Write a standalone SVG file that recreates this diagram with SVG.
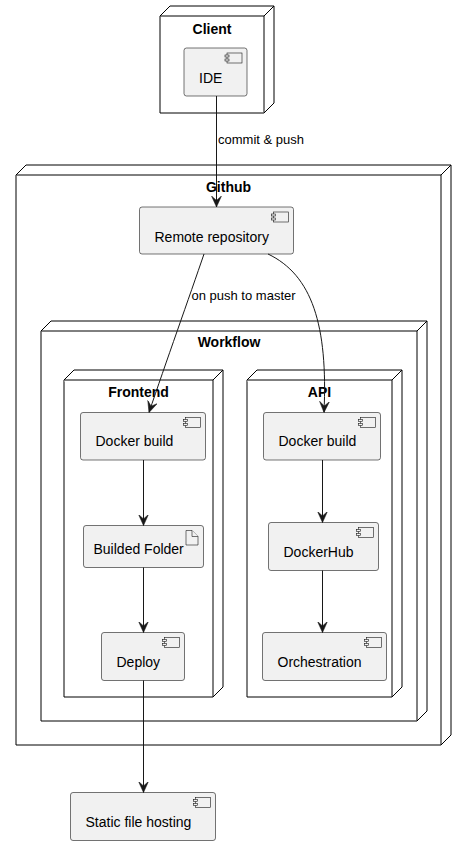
<svg xmlns="http://www.w3.org/2000/svg" width="466" height="845" viewBox="0 0 466 845">
<style>
.node{fill:#FFFFFF;stroke:#000000;stroke-width:1}
.comp{fill:#F1F1F1;stroke:#181818;stroke-width:0.6}
.icon{fill:#F1F1F1;stroke:#181818;stroke-width:0.6}
.nl{font-family:"Liberation Sans",Arial,sans-serif;font-size:14px;font-weight:bold;fill:#000;text-anchor:middle}
.cl{font-family:"Liberation Sans",Arial,sans-serif;font-size:14px;fill:#000}
.el{font-family:"Liberation Sans",Arial,sans-serif;font-size:13px;fill:#000}
.edge{fill:none;stroke:#181818;stroke-width:1}
</style>
<defs>
<marker id="arr" viewBox="0 0 10 10" markerWidth="11" markerHeight="11" refX="10" refY="5" orient="auto" markerUnits="userSpaceOnUse">
<path d="M0,0.5 L10,5 L0,9.5 L4,5 Z" fill="#181818" stroke="#181818" stroke-width="0.5"/>
</marker>
<g id="cicon">
<rect x="-20" y="5" width="15" height="10" class="icon"/>
<rect x="-22" y="7" width="4" height="2" class="icon"/>
<rect x="-22" y="11" width="4" height="2" class="icon"/>
</g>
</defs>

<g id="github">
<path class="node" d="M16,175 L26,165 L451,165 L451,735 L441,745 L16,745 Z"/>
<path class="node" d="M16,175 L441,175 L441,745 M441,175 L451,165" fill="none"/>
<text class="nl" x="228.5" y="192">Github</text>
</g>
<g id="workflow">
<path class="node" d="M41,331 L51,321 L427,321 L427,711 L417,721 L41,721 Z"/>
<path class="node" d="M41,331 L417,331 L417,721 M417,331 L427,321" fill="none"/>
<text class="nl" x="229" y="347">Workflow</text>
</g>
<g id="frontend">
<path class="node" d="M64,380 L74,370 L223,370 L223,687 L213,697 L64,697 Z"/>
<path class="node" d="M64,380 L213,380 L213,697 M213,380 L223,370" fill="none"/>
<text class="nl" x="138.5" y="397">Frontend</text>
</g>
<g id="api">
<path class="node" d="M247,380 L257,370 L402,370 L402,687 L392,697 L247,697 Z"/>
<path class="node" d="M247,380 L392,380 L392,697 M392,380 L402,370" fill="none"/>
<text class="nl" x="319.5" y="397">API</text>
</g>
<g id="client">
<path class="node" d="M160,16 L170,6 L274,6 L274,103 L264,113 L160,113 Z"/>
<path class="node" d="M160,16 L264,16 L264,113 M264,16 L274,6" fill="none"/>
<text class="nl" x="212" y="34">Client</text>
</g>

<g id="ide">
<rect class="comp" x="184" y="48" width="63" height="48" rx="2.5"/>
<use href="#cicon" x="247" y="48"/>
<text class="cl" x="199" y="83">IDE</text>
</g>
<g id="remote">
<rect class="comp" x="139.5" y="207" width="154" height="47" rx="2.5"/>
<use href="#cicon" x="293.5" y="207"/>
<text class="cl" x="154.5" y="242">Remote repository</text>
</g>
<g id="fe-docker">
<rect class="comp" x="80.5" y="412.5" width="125" height="47.5" rx="2.5"/>
<use href="#cicon" x="205.5" y="412.5"/>
<text class="cl" x="95.5" y="446">Docker build</text>
</g>
<g id="builded">
<rect class="comp" x="83.5" y="525.5" width="120" height="42" rx="2.5"/>
<path class="icon" d="M186,530.5 L192,530.5 L198,536.5 L198,545 L186,545 Z"/>
<path class="icon" d="M192,530.5 L192,536.5 L198,536.5" fill="none"/>
<text class="cl" x="93.5" y="554">Builded Folder</text>
</g>
<g id="deploy">
<rect class="comp" x="101.5" y="632.5" width="83" height="48" rx="2.5"/>
<use href="#cicon" x="184.5" y="632.5"/>
<text class="cl" x="116.5" y="667">Deploy</text>
</g>
<g id="api-docker">
<rect class="comp" x="263.5" y="412.5" width="117" height="47.5" rx="2.5"/>
<use href="#cicon" x="380.5" y="412.5"/>
<text class="cl" x="278.5" y="446">Docker build</text>
</g>
<g id="dockerhub">
<rect class="comp" x="268.5" y="522.5" width="110" height="48" rx="2.5"/>
<use href="#cicon" x="378.5" y="522.5"/>
<text class="cl" x="283.5" y="557">DockerHub</text>
</g>
<g id="orchestration">
<rect class="comp" x="262.5" y="632.5" width="124" height="48" rx="2.5"/>
<use href="#cicon" x="386.5" y="632.5"/>
<text class="cl" x="277.5" y="667">Orchestration</text>
</g>
<g id="static">
<rect class="comp" x="70.5" y="792.5" width="145" height="48" rx="2.5"/>
<use href="#cicon" x="215.5" y="792.5"/>
<text class="cl" x="85.5" y="827">Static file hosting</text>
</g>

<g id="connectors">
<path class="edge" d="M216.5,96 L216.5,207" marker-end="url(#arr)"/>
<text class="el" x="218" y="144">commit &amp; push</text>
<path class="edge" d="M204,254 C190,295 165,365 149,412.5" marker-end="url(#arr)"/>
<text class="el" x="191.5" y="300">on push to master</text>
<path class="edge" d="M268,254 C312,275 328,325 324,412.5" marker-end="url(#arr)"/>
<path class="edge" d="M143.5,460 L143.5,525.5" marker-end="url(#arr)"/>
<path class="edge" d="M143.5,567.5 L143.5,632.5" marker-end="url(#arr)"/>
<path class="edge" d="M143.5,680.5 L143.5,792.5" marker-end="url(#arr)"/>
<path class="edge" d="M322.5,460 L322.5,522.5" marker-end="url(#arr)"/>
<path class="edge" d="M322.5,570.5 L322.5,632.5" marker-end="url(#arr)"/>
</g>
</svg>
